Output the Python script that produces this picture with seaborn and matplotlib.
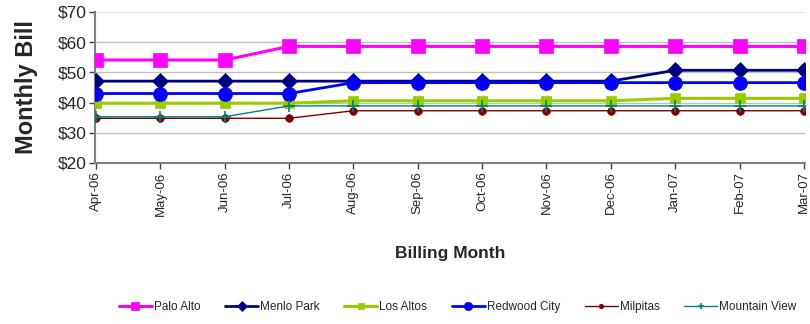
import matplotlib
matplotlib.use("Agg")
import matplotlib.pyplot as plt
import seaborn as sns
import pandas as pd

months = ["Apr-06", "May-06", "Jun-06", "Jul-06", "Aug-06", "Sep-06",
          "Oct-06", "Nov-06", "Dec-06", "Jan-07", "Feb-07", "Mar-07"]

palo_alto = [54.1, 54.1, 54.1, 58.6, 58.6, 58.6, 58.6, 58.6, 58.6, 58.6, 58.6, 58.6]
menlo_park = [47.1, 47.1, 47.1, 47.1, 47.1, 47.1, 47.1, 47.1, 47.1, 50.7, 50.7, 50.7]
los_altos = [39.8, 39.8, 39.8, 39.8, 40.6, 40.6, 40.6, 40.6, 40.6, 41.4, 41.4, 41.4]
redwood_city = [43.0, 43.0, 43.0, 43.0, 46.6, 46.6, 46.6, 46.6, 46.6, 46.6, 46.6, 46.6]
milpitas = [34.8, 34.8, 34.8, 34.8, 37.3, 37.3, 37.3, 37.3, 37.3, 37.3, 37.3, 37.3]
mountain_view = [35.3, 35.3, 35.3, 38.9, 38.9, 38.9, 38.9, 38.9, 38.9, 38.9, 38.9, 38.9]

cities = ["Palo Alto", "Menlo Park", "Los Altos", "Redwood City", "Milpitas", "Mountain View"]
values = [palo_alto, menlo_park, los_altos, redwood_city, milpitas, mountain_view]

styles = {
    "Palo Alto":     dict(color="#FF00FF", marker="s", ms=10, lw=2.2),
    "Menlo Park":    dict(color="#000080", marker="D", ms=8, lw=2.0),
    "Los Altos":     dict(color="#99CC00", marker="s", ms=7, lw=2.2),
    "Redwood City":  dict(color="#0000FF", marker="o", ms=10, lw=2.0),
    "Milpitas":      dict(color="#800000", marker="o", ms=5.5, lw=1.0),
    "Mountain View": dict(color="#008080", marker="+", ms=8, lw=1.0),
}

df = pd.DataFrame({
    "month_idx": [i for _ in cities for i in range(len(months))],
    "bill": [v for vals in values for v in vals],
    "city": [c for c in cities for _ in months],
})

sns.set_style("white")
plt.rcParams["font.family"] = ["Liberation Sans", "DejaVu Sans"]

fig = plt.figure(figsize=(8.1, 3.24), dpi=100)
ax = fig.add_axes([0.117, 0.497, 0.877, 0.466])

for city in cities:
    st = styles[city]
    sub = df[df["city"] == city]
    sns.lineplot(data=sub, x="month_idx", y="bill", ax=ax, color=st["color"],
                 marker=st["marker"], markersize=st["ms"], linewidth=st["lw"],
                 markeredgecolor=st["color"], markeredgewidth=1.2 if st["marker"] == "+" else 0.5,
                 label=city, zorder=3)

ax.set_xlim(-0.02, len(months) - 1 + 0.02)
ax.set_ylim(20, 70)
ax.set_yticks(range(20, 71, 10))
ax.set_yticklabels([f"${v}" for v in range(20, 71, 10)], fontsize=12.5)
ax.set_xticks(range(len(months)))
ax.set_xticklabels(months, rotation=90, fontsize=9.5)

for y in range(30, 71, 10):
    ax.axhline(y, color="#C0C0C0" if y < 70 else "#E6E6E6", lw=1.0, zorder=1)

for side in ["top", "right"]:
    ax.spines[side].set_visible(False)
for side in ["left", "bottom"]:
    ax.spines[side].set_color("#808080")
    ax.spines[side].set_linewidth(1.5)
ax.tick_params(axis="both", direction="out", length=4, width=1, color="#404040",
               left=True, bottom=True, pad=2)

ax.set_ylabel("Monthly Bill", fontsize=17, fontweight="bold", labelpad=14)
ax.set_xlabel("Billing Month", fontsize=12.5, fontweight="bold", labelpad=22)

handles, labels = ax.get_legend_handles_labels()
ax.get_legend().remove()
fig.legend(handles, labels, loc="center", bbox_to_anchor=(0.565, 0.052), ncol=6,
           frameon=False, fontsize=8.5, handlelength=2.8, handletextpad=0.15,
           columnspacing=2.1, borderaxespad=0, markerscale=0.6)

fig.savefig("out.png", dpi=100)
